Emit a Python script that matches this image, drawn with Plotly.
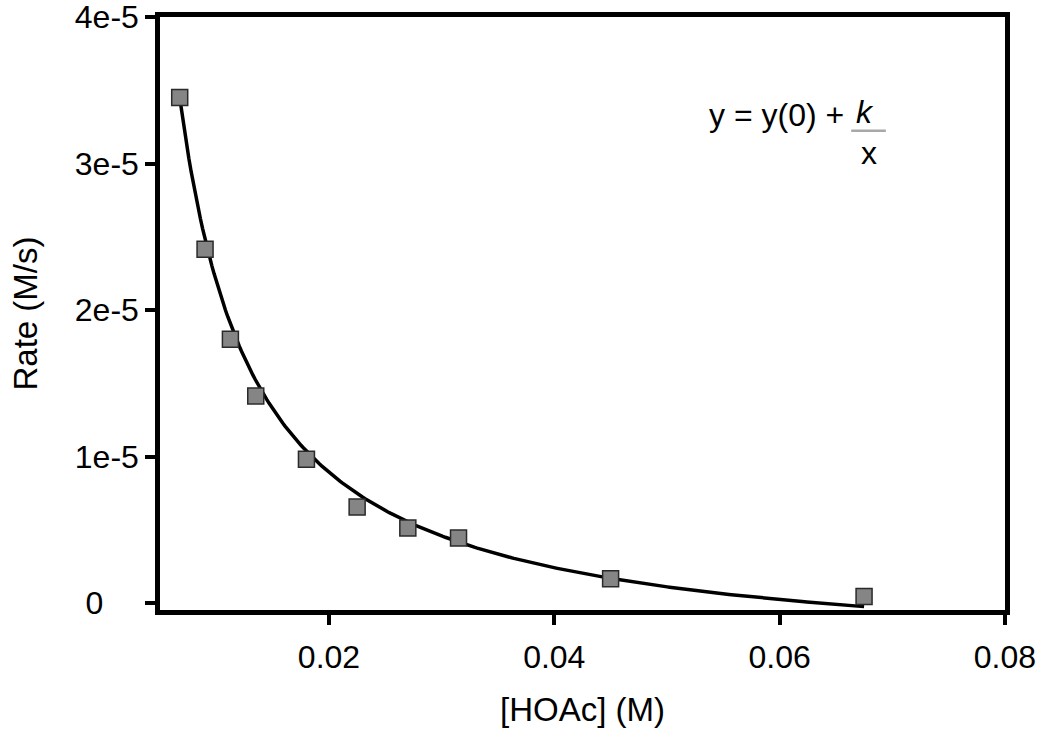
"""Rate vs [HOAc] with a y = y(0) + k/x fit."""

import numpy as np
import plotly.graph_objects as go

# measured points
hoac_conc = [0.00675, 0.009, 0.01125, 0.0135, 0.018, 0.0225, 0.027, 0.0315, 0.045, 0.0675]
rate = [3.452e-5, 2.415e-5, 1.80e-5, 1.414e-5, 0.982e-5, 0.655e-5, 0.512e-5, 0.443e-5,
        0.166e-5, 0.045e-5]

# fit parameters, y = y0 + k / x
fit_y0 = -4.11e-6
fit_k = 2.606e-7

x_ticks = [0.02, 0.04, 0.06, 0.08]
x_ticktext = ["0.02", "0.04", "0.06", "0.08"]
y_ticks = [0, 1e-5, 2e-5, 3e-5, 4e-5]
y_ticktext = ["0\u00a0\u00a0\u00a0\u00a0", "1e-5", "2e-5", "3e-5", "4e-5"]

FONT = "Liberation Sans, Arial, sans-serif"

fit_x = np.linspace(hoac_conc[0], hoac_conc[-1], 300)
fit_y = fit_y0 + fit_k / fit_x

fig = go.Figure()
fig.add_scatter(x=fit_x, y=fit_y, mode="lines", line={"color": "#000000", "width": 3.5},
                showlegend=False, hoverinfo="skip")
fig.add_scatter(
    x=hoac_conc, y=rate, mode="markers", showlegend=False,
    marker={"symbol": "square", "size": 16, "color": "#858585",
            "line": {"color": "#2a2a2a", "width": 1.5}},
)

axis_common = dict(
    showgrid=False, zeroline=False, showline=True, linecolor="#000000", linewidth=4.5,
    mirror=True, ticks="outside", ticklen=10, tickwidth=4, tickcolor="#000000",
    ticklabeloverflow="allow",
    tickfont={"family": FONT, "size": 32, "color": "#000000"},
)
fig.update_xaxes(
    range=[0.005, 0.08001], tickvals=x_ticks, ticktext=x_ticktext, ticklabelstandoff=5,
    title={"text": "[HOAc] (M)", "font": {"family": FONT, "size": 33, "color": "#000000"},
           "standoff": 25},
    **axis_common,
)
fig.update_yaxes(
    range=[-4.8e-7, 4.001e-5], tickvals=y_ticks, ticktext=y_ticktext,
    title={"text": "Rate (M/s)", "font": {"family": FONT, "size": 33, "color": "#000000"},
           "standoff": 29},
    **axis_common,
)

# equation label, k over x with a grey fraction bar
eq_font = {"family": FONT, "size": 32, "color": "#000000"}
for txt, ex, ey in [("y = y(0) +", 0.729, 0.835), ("<i>k</i>", 0.834, 0.840), ("x", 0.839, 0.771)]:
    fig.add_annotation(xref="paper", yref="paper", x=ex, y=ey, text=txt, showarrow=False,
                       xanchor="center", yanchor="middle", font=eq_font)
fig.add_shape(type="line", xref="paper", yref="paper", x0=0.818, x1=0.859, y0=0.808, y1=0.808,
              line={"color": "#a8a8a8", "width": 2.5})

fig.update_layout(
    width=1050, height=747,
    margin={"l": 160, "r": 45, "t": 17, "b": 137, "autoexpand": False},
    paper_bgcolor="#ffffff", plot_bgcolor="#ffffff",
    font={"family": FONT, "color": "#000000"},
)

fig.write_html("out.html", config={"displayModeBar": False},
               post_script="document.body.style.margin = '0';")
